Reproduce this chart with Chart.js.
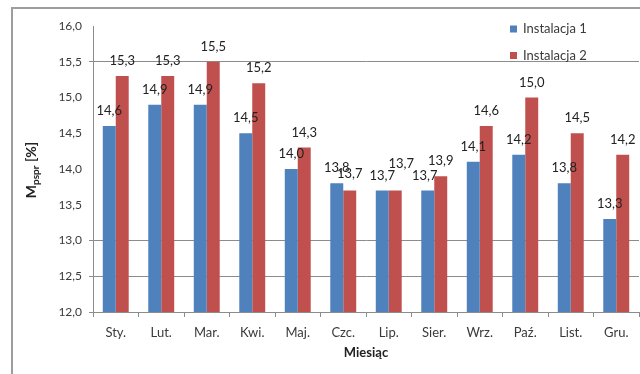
<!DOCTYPE html>
<html>
<head>
<meta charset="utf-8">
<script src="https://cdn.jsdelivr.net/npm/chart.js@4/dist/chart.umd.min.js"></script>
<style>
  html, body { margin: 0; padding: 0; background: #ffffff; }
  #wrap { width: 640px; height: 374px; position: relative; }
</style>
</head>
<body>
<div id="wrap"><canvas id="chart" width="640" height="374"></canvas></div>
<script>
// Monthly moisture content for two installations
const months = ['Sty.', 'Lut.', 'Mar.', 'Kwi.', 'Maj.', 'Czc.', 'Lip.', 'Sier.', 'Wrz.', 'Paź.', 'List.', 'Gru.'];
const instalacja1 = [14.6, 14.9, 14.9, 14.5, 14.0, 13.8, 13.7, 13.7, 14.1, 14.2, 13.8, 13.3];
const instalacja2 = [15.3, 15.3, 15.5, 15.2, 14.3, 13.7, 13.7, 13.9, 14.6, 15.0, 14.5, 14.2];
const seriesNames = ['Instalacja 1', 'Instalacja 2'];
const yTicks = [12.0, 12.5, 13.0, 13.5, 14.0, 14.5, 15.0, 15.5, 16.0];

const BLUE = '#4F81BD';
const RED = '#C0504D';
const TEXT = '#3a3a3a';
const GRID = '#8c8c8c';
const FONT = 'Lato, "Open Sans", sans-serif';

const fmt = v => v.toFixed(1).replace('.', ',');

// horizontal rules that stay visible on the value axis
const shownRules = [12.0, 12.5, 13.0, 15.5];

// small hand nudges for crowded value labels: [dataset]:[index] -> [dx, dy]
const labelNudge = { '1:6': [6, -12], '1:5': [0, -2], '0:7': [-3, 0] };

const framePlugin = {
  id: 'frame',
  beforeDraw(chart) {
    const ctx = chart.ctx;
    ctx.save();
    ctx.strokeStyle = '#9d9d9d';
    ctx.lineWidth = 2;
    ctx.beginPath();
    ctx.moveTo(12, 374);
    ctx.lineTo(12, 8);
    ctx.lineTo(640, 8);
    ctx.stroke();
    ctx.restore();
  }
};

const valueLabels = {
  id: 'valueLabels',
  afterDatasetsDraw(chart) {
    const ctx = chart.ctx;
    ctx.save();
    ctx.font = '13px ' + FONT;
    ctx.fillStyle = '#222';
    ctx.textAlign = 'center';
    ctx.textBaseline = 'middle';
    chart.data.datasets.forEach((ds, di) => {
      const meta = chart.getDatasetMeta(di);
      meta.data.forEach((bar, i) => {
        const n = labelNudge[di + ':' + i] || [0, 0];
        ctx.fillText(fmt(ds.data[i]), bar.x + n[0], bar.y - 15 + n[1]);
      });
    });
    ctx.restore();
  }
};

const legendBox = {
  id: 'legendBox',
  afterDraw(chart) {
    const ctx = chart.ctx;
    ctx.save();
    ctx.font = '13px ' + FONT;
    ctx.textBaseline = 'middle';
    ctx.textAlign = 'left';
    chart.data.datasets.forEach((ds, i) => {
      const y = 29 + i * 26.5;
      ctx.fillStyle = ds.backgroundColor;
      ctx.fillRect(510, y - 3.5, 7, 7);
      ctx.fillStyle = TEXT;
      ctx.fillText(ds.label, 523, y);
    });
    ctx.restore();
  }
};

const yTitle = {
  id: 'yTitle',
  afterDraw(chart) {
    const ctx = chart.ctx;
    ctx.save();
    ctx.translate(31, 170);
    ctx.rotate(-Math.PI / 2);
    ctx.fillStyle = '#222';
    ctx.textBaseline = 'alphabetic';
    const big = 'bold 14px ' + FONT;
    const small = 'bold 10px ' + FONT;
    ctx.font = big; const wM = ctx.measureText('M').width;
    ctx.font = small; const wS = ctx.measureText('pspr').width;
    ctx.font = big; const wU = ctx.measureText(' [%]').width;
    let x = -(wM + wS + wU) / 2;
    const base = 5;
    ctx.font = big; ctx.fillText('M', x, base); x += wM;
    ctx.font = small; ctx.fillText('pspr', x, base + 3); x += wS;
    ctx.font = big; ctx.fillText(' [%]', x, base);
    ctx.restore();
  }
};

new Chart(document.getElementById('chart'), {
  type: 'bar',
  data: {
    labels: months,
    datasets: [
      { label: seriesNames[0], data: instalacja1, backgroundColor: BLUE, borderWidth: 0 },
      { label: seriesNames[1], data: instalacja2, backgroundColor: RED, borderWidth: 0 }
    ]
  },
  options: {
    responsive: false,
    animation: false,
    layout: { padding: { left: 12, top: 26, right: 1, bottom: 0 } },
    datasets: { bar: { categoryPercentage: 0.57, barPercentage: 1.0 } },
    plugins: {
      legend: { display: false },
      tooltip: { enabled: false }
    },
    scales: {
      x: {
        grid: { offset: true, drawOnChartArea: false, drawTicks: true, tickLength: 5, color: GRID },
        border: { display: true, color: GRID },
        ticks: { color: TEXT, font: { family: FONT, size: 13 }, padding: 8, maxRotation: 0 },
        title: { display: true, text: 'Miesiąc', color: '#222', font: { family: FONT, size: 13, weight: 'bold' }, padding: { top: 0, bottom: 13 } },
        afterFit(scale) { scale.height = 62; }
      },
      y: {
        min: 12, max: 16,
        afterBuildTicks(scale) { scale.ticks = yTicks.map(v => ({ value: v })); },
        grid: {
          color: c => shownRules.some(v => Math.abs(v - c.tick.value) < 1e-6) ? GRID : 'rgba(0,0,0,0)',
          tickLength: 4
        },
        border: { display: true, color: GRID },
        ticks: { color: TEXT, font: { family: FONT, size: 12 }, padding: 7, callback: v => fmt(v) },
        afterFit(scale) { scale.width = 81; }
      }
    }
  },
  plugins: [framePlugin, valueLabels, legendBox, yTitle]
});
</script>
</body>
</html>
